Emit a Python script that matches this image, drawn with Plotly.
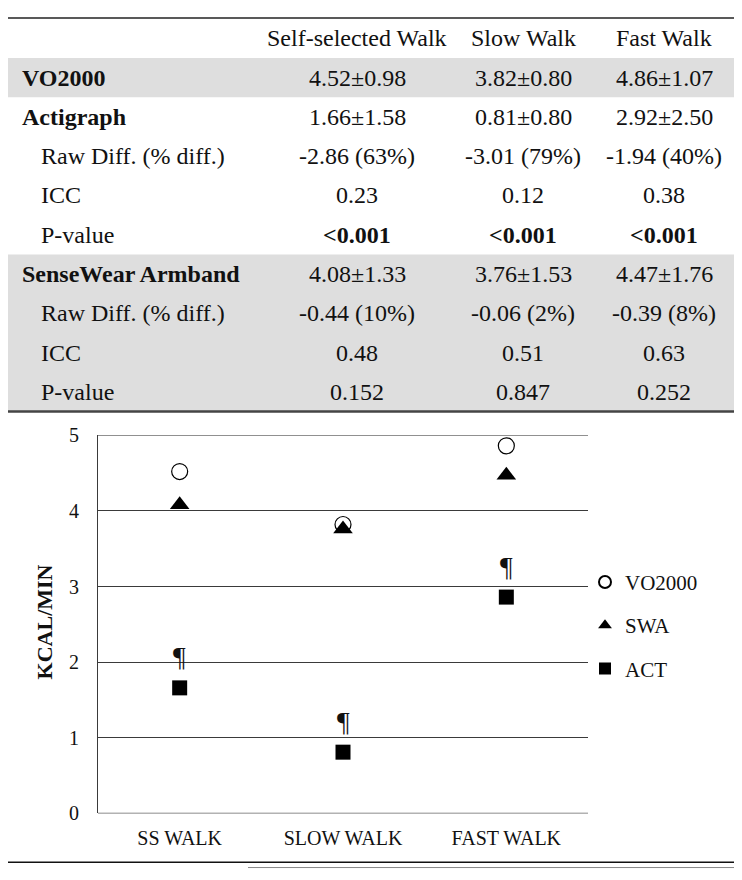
import plotly.graph_objects as go

# ---------------- data ----------------
categories = ["SS WALK", "SLOW WALK", "FAST WALK"]
vo2000 = [4.52, 3.82, 4.86]
swa = [4.08, 3.76, 4.47]
act = [1.66, 0.81, 2.86]
sig_marks = ["¶", "¶", "¶"]
y_tick_vals = [0, 1, 2, 3, 4, 5]

table_header = ["Self-selected Walk", "Slow Walk", "Fast Walk"]
row_labels = ["VO2000", "Actigraph", "Raw Diff. (% diff.)", "ICC", "P-value",
              "SenseWear Armband", "Raw Diff. (% diff.)", "ICC", "P-value"]
row_is_group = [True, True, False, False, False, True, False, False, False]
ss_walk_vals = ["4.52±0.98", "1.66±1.58", "-2.86 (63%)", "0.23", "<0.001",
                "4.08±1.33", "-0.44 (10%)", "0.48", "0.152"]
slow_walk_vals = ["3.82±0.80", "0.81±0.80", "-3.01 (79%)", "0.12", "<0.001",
                  "3.76±1.53", "-0.06 (2%)", "0.51", "0.847"]
fast_walk_vals = ["4.86±1.07", "2.92±2.50", "-1.94 (40%)", "0.38", "<0.001",
                  "4.47±1.76", "-0.39 (8%)", "0.63", "0.252"]
bold_value_rows = [4]
shaded_row_blocks = [(0, 0), (5, 8)]

# ---------------- layout helpers ----------------
# the page body has an 8px margin, so the figure starts at (8, 8) on screen;
# positions below are given in screen pixels.
OFF = 8
W, H = 742 - OFF, 880 - OFF
FONT = "Liberation Serif, Times New Roman, serif"
TXT = "#111111"


def px(x):
    return (x - OFF) / W


def py(y):
    return 1 - (y - OFF) / H


table_top = 7
header_h = 41
row_h = 40.3
col_centres = [357, 523, 664]
label_x_group = 20
label_x_sub = 39
plot_left, plot_right = 98, 588
plot_top, plot_bottom = 435, 823

fig = go.Figure()

fig.add_trace(go.Scatter(
    x=categories, y=vo2000, mode="markers", name="VO2000", legendgroup="a",
    marker=dict(symbol="circle-open", size=16, color="#000000",
                line=dict(width=1.2, color="#000000"))))
fig.add_trace(go.Scatter(
    x=categories, y=swa, mode="markers", name="SWA", legendgroup="b",
    marker=dict(symbol="triangle-up", size=17, color="#000000")))
fig.add_trace(go.Scatter(
    x=categories, y=act, mode="markers", name="ACT", legendgroup="c",
    marker=dict(symbol="square", size=15, color="#000000")))

shapes = []
annotations = []

for r0, r1 in shaded_row_blocks:
    y0 = table_top + header_h + r0 * row_h
    y1 = table_top + header_h + (r1 + 1) * row_h
    shapes.append(dict(type="rect", xref="paper", yref="paper",
                       x0=px(8), x1=px(734), y0=py(y0), y1=py(y1),
                       fillcolor="#dedede", line=dict(width=0), layer="below"))

table_bottom = table_top + header_h + len(row_labels) * row_h
shapes.append(dict(type="line", xref="paper", yref="paper",
                   x0=px(8), x1=px(734), y0=py(table_top), y1=py(table_top),
                   line=dict(color="#222222", width=1.5)))
shapes.append(dict(type="line", xref="paper", yref="paper",
                   x0=px(8), x1=px(734), y0=py(table_bottom), y1=py(table_bottom),
                   line=dict(color="#444444", width=2.5)))
shapes.append(dict(type="line", xref="paper", yref="paper",
                   x0=px(8), x1=px(734), y0=py(873), y1=py(873),
                   line=dict(color="#111111", width=1.5)))
shapes.append(dict(type="line", xref="paper", yref="paper",
                   x0=px(248), x1=px(734), y0=py(878.5), y1=py(878.5),
                   line=dict(color="#888888", width=1)))

for c, txt in zip(col_centres, table_header):
    annotations.append(dict(text=txt, xref="paper", yref="paper",
                            x=px(c), y=py(table_top + header_h / 2),
                            xanchor="center", yanchor="middle", showarrow=False,
                            font=dict(family=FONT, size=24, color=TXT)))

cols = [ss_walk_vals, slow_walk_vals, fast_walk_vals]
for i, lab in enumerate(row_labels):
    yc = table_top + header_h + (i + 0.5) * row_h
    if row_is_group[i]:
        ltxt, lx = "<b>%s</b>" % lab, label_x_group
    else:
        ltxt, lx = lab, label_x_sub
    annotations.append(dict(text=ltxt, xref="paper", yref="paper",
                            x=px(lx), y=py(yc), xanchor="left", yanchor="middle",
                            showarrow=False,
                            font=dict(family=FONT, size=24, color=TXT)))
    for c, vals in zip(col_centres, cols):
        v = vals[i]
        if i in bold_value_rows:
            v = "<b>%s</b>" % v
        annotations.append(dict(text=v, xref="paper", yref="paper",
                                x=px(c), y=py(yc), xanchor="center",
                                yanchor="middle", showarrow=False,
                                font=dict(family=FONT, size=24, color=TXT)))

for cat, yv, m in zip(categories, act, sig_marks):
    annotations.append(dict(text=m, x=cat, y=yv, xref="x", yref="y",
                            yshift=31, showarrow=False,
                            font=dict(family=FONT, size=28, color=TXT)))

annotations.append(dict(text="<b>KCAL/MIN</b>", xref="paper", yref="paper",
                        x=px(44), y=py(627), textangle=-90, showarrow=False,
                        xanchor="center", yanchor="middle",
                        font=dict(family=FONT, size=22, color=TXT)))

shapes.append(dict(type="line", xref="x domain", yref="y",
                   x0=0, x1=1, y0=5, y1=5,
                   line=dict(color="#3a3a3a", width=1.2)))
shapes.append(dict(type="line", xref="x domain", yref="y",
                   x0=0, x1=1, y0=0, y1=0,
                   line=dict(color="#666666", width=1.5)))

fig.update_layout(
    width=W, height=H,
    margin=dict(l=0, r=0, t=0, b=0),
    paper_bgcolor="white", plot_bgcolor="white",
    font=dict(family=FONT, color=TXT),
    shapes=shapes, annotations=annotations,
    showlegend=True,
    legend=dict(x=px(585), y=py(630), xanchor="left", yanchor="middle",
                font=dict(family=FONT, size=21, color=TXT),
                tracegroupgap=13, itemwidth=30, itemsizing="constant",
                bgcolor="rgba(0,0,0,0)"),
    xaxis=dict(domain=[px(plot_left), px(plot_right)], range=[-0.5, 2.5],
               type="category", showgrid=False, zeroline=False,
               showline=False, ticks="", ticklabelstandoff=11,
               tickfont=dict(family=FONT, size=20, color=TXT)),
    yaxis=dict(domain=[py(plot_bottom), py(plot_top)], range=[0, 5],
               tickvals=y_tick_vals, showgrid=True, gridcolor="#3a3a3a",
               gridwidth=1.2, zeroline=False, showline=True,
               linecolor="#3a3a3a", linewidth=1.2, ticks="",
               ticklabelstandoff=14,
               tickfont=dict(family=FONT, size=20, color=TXT)),
)

fig.write_html("out.html")
